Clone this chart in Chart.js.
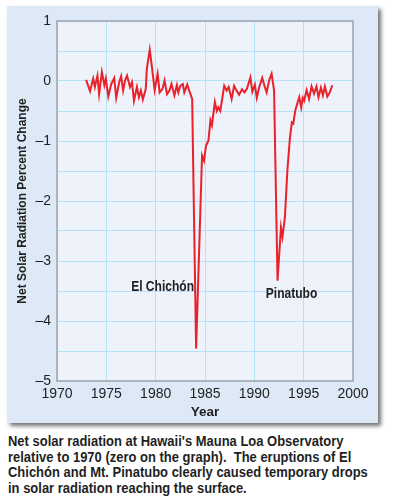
<!DOCTYPE html>
<html>
<head>
<meta charset="utf-8">
<script src="https://cdn.jsdelivr.net/npm/chart.js@4.4.1/dist/chart.umd.min.js"></script>
<style>
  body { margin: 0; background: #fff; width: 399px; height: 504px; position: relative; overflow: hidden; }
  #panel {
    position: absolute; left: 7px; top: 6px; width: 371px; height: 417px;
    background: #dde9f6; box-shadow: 3px 3px 4px rgba(0,0,0,0.55);
  }
  #chart { position: absolute; left: 0; top: 0; }
  #caption {
    position: absolute; left: 8px; top: 434px; white-space: nowrap;
    font-family: "Liberation Sans", Arial, sans-serif;
    font-weight: bold; font-size: 14.5px; line-height: 15.5px; color: #1f1f1f;
    transform: scaleX(0.895); transform-origin: 0 0;
  }
</style>
</head>
<body>
<div id="panel"></div>
<canvas id="chart" width="399" height="430"></canvas>
<div id="caption">Net solar radiation at Hawaii's Mauna Loa Observatory<br>relative to 1970 (zero on the graph).&nbsp; The eruptions of El<br>Chichón and Mt. Pinatubo clearly caused temporary drops<br>in solar radiation reaching the surface.</div>
<script>
// data
const years = [
  1972.95, 1973.35, 1973.67, 1973.84, 1974.1, 1974.27, 1974.55, 1974.8, 1974.95, 1975.2,
  1975.5, 1975.8, 1976.0, 1976.3, 1976.5, 1976.7, 1976.9, 1977.1, 1977.4, 1977.6,
  1977.8, 1978.1, 1978.3, 1978.5, 1978.7, 1979.0, 1979.1, 1979.4, 1979.6, 1979.9,
  1980.2, 1980.4, 1980.7, 1980.9, 1981.15, 1981.4, 1981.6, 1981.9, 1982.15, 1982.3,
  1982.5, 1982.75, 1982.9, 1983.2, 1983.4, 1983.7, 1983.85, 1984.1, 1984.7, 1984.9,
  1985.1, 1985.35, 1985.55, 1985.7, 1986.0, 1986.2, 1986.35, 1986.55, 1986.95, 1987.2,
  1987.4, 1987.7, 1987.95, 1988.2, 1988.45, 1988.75, 1989.0, 1989.25, 1989.6, 1989.8,
  1990.05, 1990.25, 1990.5, 1990.8, 1991.1, 1991.25, 1991.5, 1991.75, 1992.0, 1992.35,
  1992.7, 1992.85, 1993.1, 1993.35, 1993.6, 1993.8, 1993.95, 1994.15, 1994.4, 1994.55,
  1994.75, 1994.9, 1995.05, 1995.3, 1995.55, 1995.8, 1996.05, 1996.3, 1996.5, 1996.75,
  1996.95, 1997.15, 1997.4, 1997.65, 1997.9
];
const radiation = [
  0.02, -0.17, 0.04, -0.10, 0.09, -0.22, 0.15, -0.07, 0.04, -0.26,
  -0.05, 0.05, -0.28, -0.02, 0.08, -0.16, 0.01, 0.09, -0.10, -0.02,
  -0.33, -0.10, -0.27, -0.16, -0.31, -0.13, 0.20, 0.52, 0.26, -0.15,
  0.12, -0.19, -0.13, 0.01, -0.22, -0.16, -0.05, -0.24, -0.07, -0.19,
  -0.08, -0.05, -0.19, -0.06, -0.16, -0.30, -1.90, -4.46, -1.24, -1.33,
  -1.08, -0.99, -0.66, -0.74, -0.35, -0.50, -0.44, -0.50, -0.08, -0.16,
  -0.10, -0.30, -0.08, -0.16, -0.23, -0.14, -0.19, -0.13, 0.06, -0.18,
  -0.06, -0.28, -0.10, 0.05, -0.12, -0.19, 0.01, 0.12, -0.15, -3.33,
  -2.44, -2.60, -2.27, -1.49, -0.96, -0.69, -0.71, -0.49, -0.35, -0.27,
  -0.44, -0.28, -0.33, -0.15, -0.30, -0.09, -0.21, -0.09, -0.27, -0.11,
  -0.24, -0.09, -0.26, -0.19, -0.07
];
const eventNames = ["El Chichón", "Pinatubo"];
const eventYears = [1980.7, 1993.77];
const eventLevels = [-3.44, -3.55];

const sans = '"Liberation Sans", Arial, sans-serif';

// light plot background, grey frame, event labels
const plotFrame = {
  id: 'plotFrame',
  beforeDraw(chart) {
    const { ctx, chartArea: a } = chart;
    ctx.save();
    ctx.fillStyle = '#eef2fa';
    ctx.fillRect(a.left, a.top, a.width, a.height);
    ctx.restore();
  },
  afterDraw(chart) {
    const { ctx, chartArea: a, scales } = chart;
    ctx.save();
    ctx.strokeStyle = '#9ea3ab';
    ctx.lineWidth = 1.5;
    ctx.strokeRect(a.left, a.top, a.width, a.height);
    ctx.fillStyle = '#1f1f1f';
    ctx.font = 'bold 14px ' + sans;
    ctx.textAlign = 'center';
    ctx.textBaseline = 'middle';
    eventNames.forEach((name, i) => {
      ctx.save();
      ctx.translate(scales.x.getPixelForValue(eventYears[i]), scales.y.getPixelForValue(eventLevels[i]));
      ctx.scale(0.86, 1);
      ctx.fillText(name, 0, 0);
      ctx.restore();
    });
    ctx.restore();
  }
};

new Chart(document.getElementById('chart'), {
  type: 'line',
  data: {
    datasets: [{
      data: years.map((y, i) => ({ x: y, y: radiation[i] })),
      borderColor: '#e8212b',
      borderWidth: 2,
      pointRadius: 0,
      tension: 0,
      fill: false
    }]
  },
  options: {
    responsive: false,
    animation: false,
    layout: { padding: { left: 0, top: 21, right: 46, bottom: 0 } },
    plugins: { legend: { display: false }, tooltip: { enabled: false } },
    scales: {
      x: {
        type: 'linear',
        min: 1970,
        max: 2000,
        afterFit: (s) => { s.height = 49; },
        ticks: {
          stepSize: 5,
          padding: 5,
          color: '#1f1f1f',
          font: { family: sans, size: 14 },
          callback: (v) => String(v)
        },
        grid: { color: '#b6e2f6', lineWidth: 1, drawTicks: false },
        border: { display: false },
        title: {
          display: true,
          text: 'Year',
          color: '#1f1f1f',
          font: { family: sans, size: 13.5, weight: 'bold' },
          padding: { top: 0, bottom: 10 }
        }
      },
      y: {
        min: -5,
        max: 1,
        afterFit: (s) => { s.width = 57; },
        ticks: {
          stepSize: 0.5,
          padding: 6,
          color: '#1f1f1f',
          font: { family: sans, size: 14 },
          callback: (v) => Number.isInteger(v) ? (v < 0 ? '\u2013' + Math.abs(v) : String(v)) : ''
        },
        grid: { color: '#b6e2f6', lineWidth: 1, drawTicks: false },
        border: { display: false },
        title: {
          display: true,
          text: 'Net Solar Radiation Percent Change',
          color: '#1f1f1f',
          font: { family: sans, size: 12, weight: 'bold' },
          padding: { top: 15, bottom: 0 }
        }
      }
    }
  },
  plugins: [plotFrame]
});
</script>
</body>
</html>
